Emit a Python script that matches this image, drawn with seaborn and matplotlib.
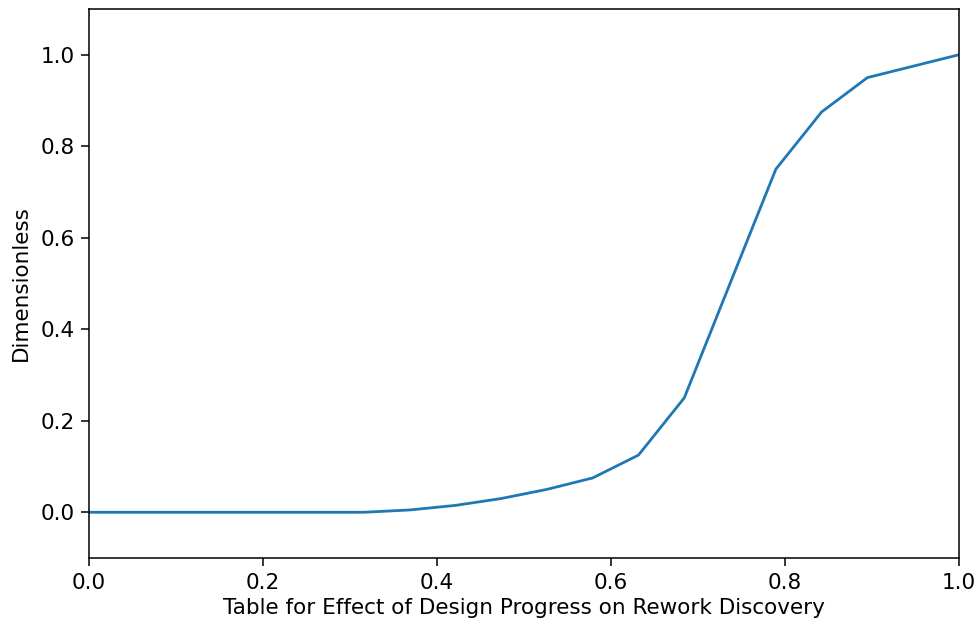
import pandas as pd
import seaborn as sns
from matplotlib import pyplot as plt

# lookup table points
x_vals = [0.0, 0.0526, 0.1053, 0.1579, 0.2105, 0.2632, 0.3158, 0.3684, 0.4211, 0.4737,
          0.5263, 0.5789, 0.6316, 0.6842, 0.7368, 0.7895, 0.8421, 0.8947, 0.9474, 1.0]
y_vals = [0.0, 0.0, 0.0, 0.0, 0.0, 0.0, 0.0, 0.005, 0.015, 0.03,
          0.05, 0.075, 0.125, 0.25, 0.5, 0.75, 0.875, 0.95, 0.975, 1.0]

xlabel = "Table for Effect of Design Progress on Rework Discovery"
ylabel = "Dimensionless"

sns.set_style("ticks")
plt.rcParams['font.family'] = ['DejaVu Sans']

df = pd.DataFrame({'x': x_vals, 'y': y_vals})

fig = plt.figure(figsize=(9.79, 6.23), dpi=100)
ax = fig.add_axes([0.0909, 0.1043, 0.8887, 0.8813])
sns.lineplot(data=df, x='x', y='y', ax=ax, color='#1f77b4', linewidth=2.0)

ax.set_xlim(0, 1)
ax.set_ylim(-0.1, 1.1)
ax.set_xticks([0.0, 0.2, 0.4, 0.6, 0.8, 1.0])
ax.set_yticks([0.0, 0.2, 0.4, 0.6, 0.8, 1.0])
ax.tick_params(labelsize=15.5, length=5.5, width=1.1, pad=5, color='black', labelcolor='black')
ax.set_xlabel(xlabel, fontsize=15.5, color='black', labelpad=4)
ax.set_ylabel(ylabel, fontsize=15.5, color='black', labelpad=7)
for s in ax.spines.values():
    s.set_visible(True)
    s.set_color('black')
    s.set_linewidth(1.1)

plt.savefig('out.png', dpi=100)
